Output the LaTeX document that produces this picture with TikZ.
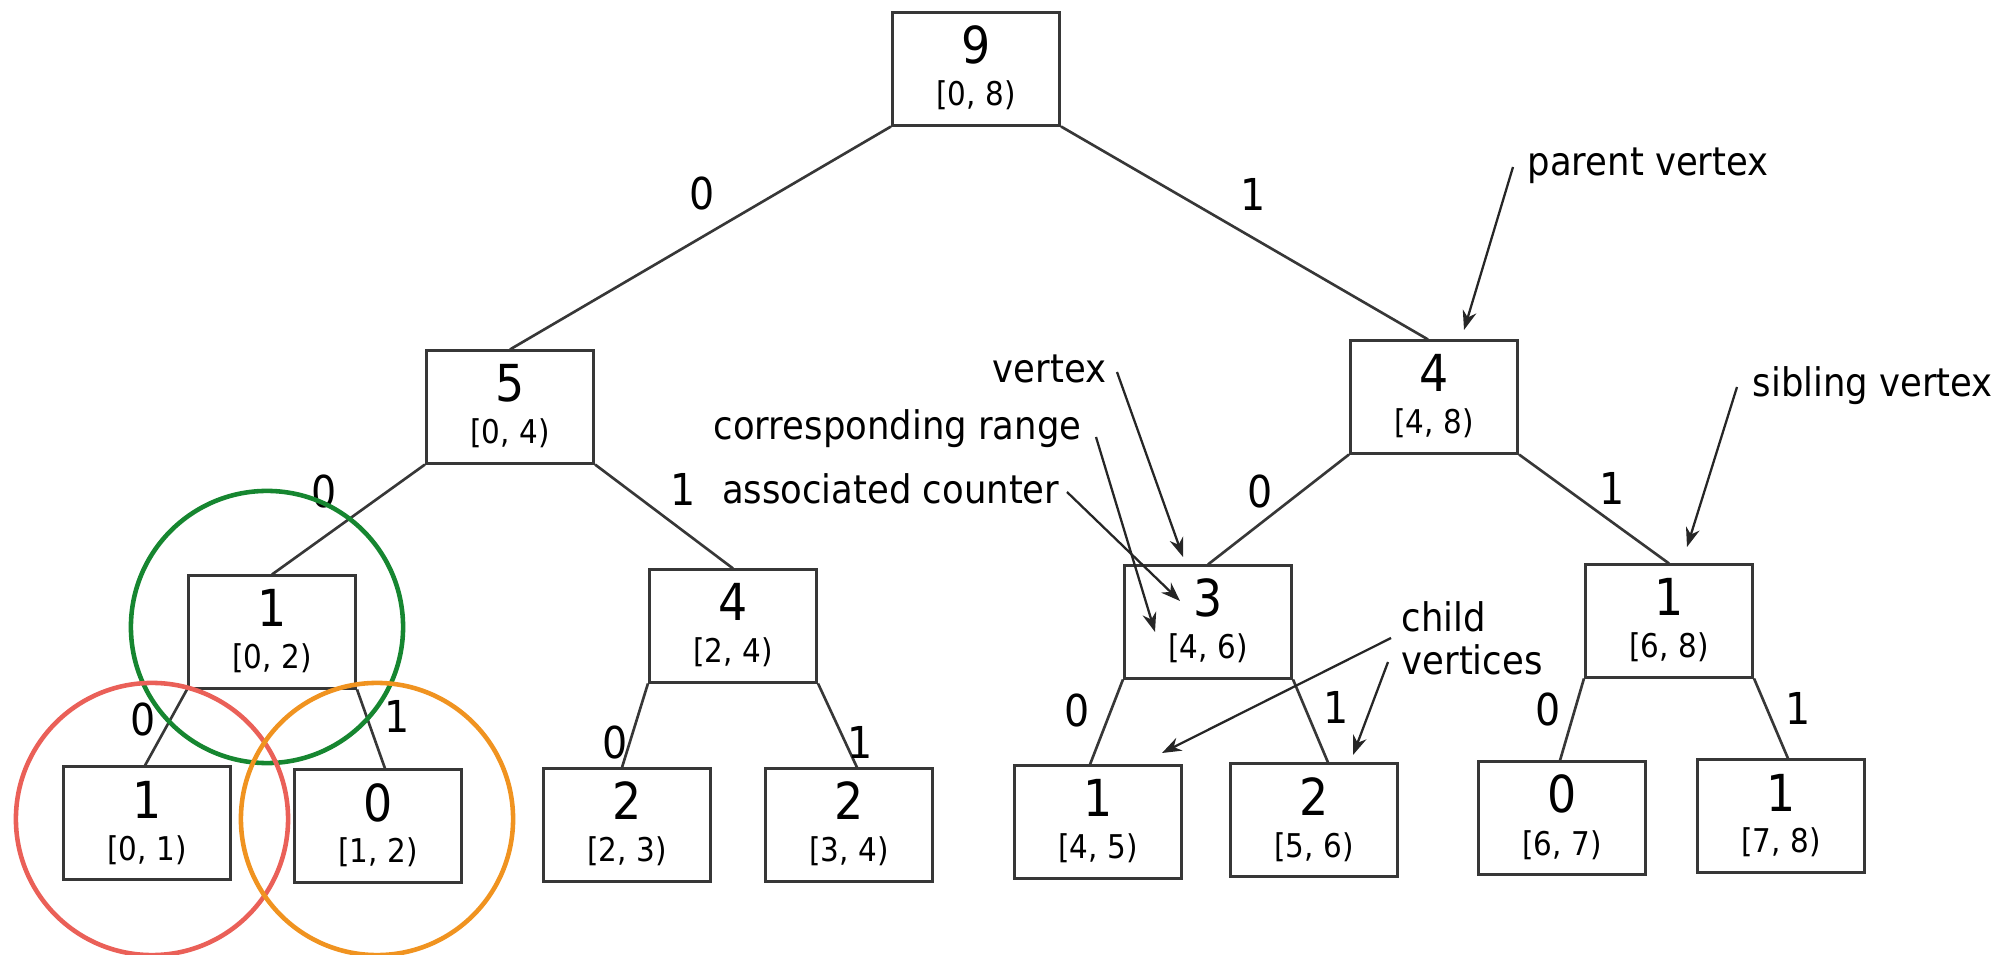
\documentclass[tikz,border=0pt]{standalone}
\usepackage{fontspec}
\setmainfont{DejaVu Sans}[FakeStretch=0.9]
\usetikzlibrary{calc,arrows.meta}
\definecolor{boxgray}{RGB}{55,55,55}
\definecolor{ringgreen}{RGB}{22,134,48}
\definecolor{ringred}{RGB}{234,96,88}
\definecolor{ringorange}{RGB}{240,147,32}
\tikzset{
  tbox/.style={draw=boxgray, line width=0.85pt, minimum width=1.67cm, minimum height=1.12cm, inner sep=0pt},
  numtxt/.style={anchor=base, inner sep=0pt, font=\fontsize{14.5}{16}\selectfont},
  rngtxt/.style={anchor=base, inner sep=0pt, font=\fontsize{9.3}{11}\selectfont},
  elab/.style={inner sep=0pt, font=\fontsize{12.5}{14}\selectfont},
  ann/.style={inner sep=0pt, font=\fontsize{11.2}{13}\selectfont},
  edge/.style={draw=boxgray, line width=0.75pt},
  arr/.style={draw=black!85, line width=0.65pt, -{Stealth[length=5.5pt,width=4pt]}},
  ring/.style={draw, circle, line width=1.3pt, minimum size=2.72cm, inner sep=0pt},
}
\newcommand\TBox[5]{%
  \node[tbox] (#1) at (#2,#3) {};
  \node[numtxt] (#1-n) at ($(#2,#3)+(0,-5)$) {#4};
  \node[rngtxt] (#1-r) at ($(#2,#3)+(0,37)$) {#5};}
\begin{document}
\begin{tikzpicture}[x=0.01cm,y=-0.01cm]
\useasboundingbox (0,0) rectangle (2005,955);
% tree boxes
\TBox{root}{976}{69}{9}{[0, 8)}
\TBox{n5}{510}{407}{5}{[0, 4)}
\TBox{n4R}{1434}{397}{4}{[4, 8)}
\TBox{n12}{272}{632}{1}{[0, 2)}
\TBox{n24}{733}{626}{4}{[2, 4)}
\TBox{n46}{1208}{622}{3}{[4, 6)}
\TBox{n68}{1669}{621}{1}{[6, 8)}
\TBox{l01}{147}{823}{1}{[0, 1)}
\TBox{l12}{378}{826}{0}{[1, 2)}
\TBox{l23}{627}{825}{2}{[2, 3)}
\TBox{l34}{849}{825}{2}{[3, 4)}
\TBox{l45}{1098}{822}{1}{[4, 5)}
\TBox{l56}{1314}{820}{2}{[5, 6)}
\TBox{l67}{1562}{818}{0}{[6, 7)}
\TBox{l78}{1781}{816}{1}{[7, 8)}
% edges
\draw[edge] (root.south west) -- (n5.north);
\draw[edge] (root.south east) -- ($(n4R.north)+(-6,0)$);
\draw[edge] (n5.south west) -- (n12.north);
\draw[edge] (n5.south east) -- (n24.north);
\draw[edge] (n4R.south west) -- (n46.north);
\draw[edge] (n4R.south east) -- (n68.north);
\draw[edge] (n12.south west) -- ($(l01.north)+(-2,0)$);
\draw[edge] (n12.south east) -- ($(l12.north)+(7,0)$);
\draw[edge] (n24.south west) -- ($(l23.north)+(-5,0)$);
\draw[edge] (n24.south east) -- ($(l34.north)+(8,0)$);
\draw[edge] (n46.south west) -- ($(l45.north)+(-8,0)$);
\draw[edge] (n46.south east) -- ($(l56.north)+(14,0)$);
\draw[edge] (n68.south west) -- ($(l67.north)+(-2,0)$);
\draw[edge] (n68.south east) -- ($(l78.north)+(7,0)$);
% edge labels
\node[elab] (e-r0) at (702,194) {0};
\node[elab] (e-r1) at (1253,194) {1};
\node[elab] (e-50) at (324,491) {0};
\node[elab] (e-51) at (683,489) {1};
\node[elab] (e-40) at (1260,492) {0};
\node[elab] (e-41) at (1612,488) {1};
\node[elab] (e-120) at (143,719) {0};
\node[elab] (e-121) at (397,716) {1};
\node[elab] (e-240) at (615,742) {0};
\node[elab] (e-241) at (860,742) {1};
\node[elab] (e-460) at (1077,711) {0};
\node[elab] (e-461) at (1336,707) {1};
\node[elab] (e-680) at (1548,710) {0};
\node[elab] (e-681) at (1798,708) {1};
% annotations
\node[ann, anchor=base west] (pv) at (1527,176) {parent vertex};
\node[ann, anchor=base west] (sv) at (1752,397) {sibling vertex};
\node[ann, anchor=base east] (vx) at (1107,383) {vertex};
\node[ann, anchor=base east] (cr) at (1082,440) {corresponding range};
\node[ann, anchor=base east] (ac) at (1060,504) {associated counter};
\node[ann, anchor=base west] (cv1) at (1401,632) {child};
\node[ann, anchor=base west] (cv2) at (1401,675) {vertices};
% arrow end points
\coordinate (pv-s) at (1513,167);  \coordinate (pv-t) at (1464,330);
\coordinate (sv-s) at (1737,387);  \coordinate (sv-t) at (1687,547);
\coordinate (vx-s) at (1117,372);  \coordinate (vx-t) at (1183,557);
\coordinate (cr-s) at (1096,437);  \coordinate (cr-t) at (1155,632);
\coordinate (ac-s) at (1067,492);  \coordinate (ac-t) at (1180,601);
\coordinate (c1-s) at (1391,638);  \coordinate (c1-t) at (1162,753);
\coordinate (c2-s) at (1388,662);  \coordinate (c2-t) at (1353,755);
\draw[arr] (pv-s) -- (pv-t);
\draw[arr] (sv-s) -- (sv-t);
\draw[arr] (vx-s) -- (vx-t);
\draw[arr] (cr-s) -- (cr-t);
\draw[arr] (ac-s) -- (ac-t);
\draw[arr] (c1-s) -- (c1-t);
\draw[arr] (c2-s) -- (c2-t);
% rings
\node[ring, draw=ringgreen] (gring) at (267,627) {};
\node[ring, draw=ringred] (rring) at (152,819) {};
\node[ring, draw=ringorange] (oring) at (377,819) {};
\end{tikzpicture}
\end{document}
